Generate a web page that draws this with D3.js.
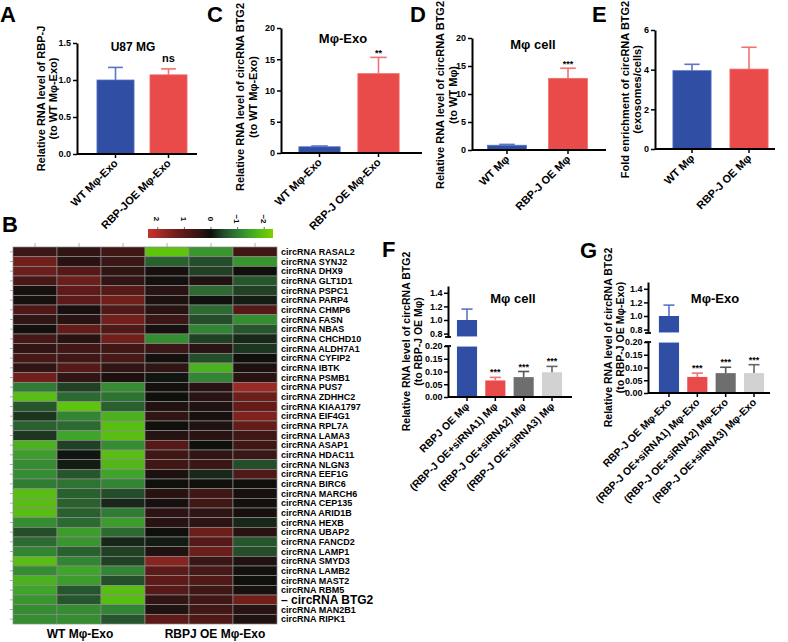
<!DOCTYPE html>
<html><head><meta charset="utf-8">
<script src="https://cdn.jsdelivr.net/npm/d3@7"></script>
<style>
body{margin:0;background:#fff}
svg{display:block}
text{font-family:"Liberation Sans",Arial,Helvetica,sans-serif;font-weight:bold;fill:#000}
</style>
</head><body>
<svg id="c" width="788" height="642"></svg>
<script>
// ---------- DATA ----------
const aCats = ["WT Mφ-Exo", "RBP-JOE Mφ-Exo"];
const aMeans = [1.0, 1.07];
const aErrs = [0.17, 0.08];

const cCats = ["WT Mφ-Exo", "RBP-J OE Mφ-Exo"];
const cMeans = [1.0, 12.7];
const cErrs = [0.12, 2.6];

const dCats = ["WT Mφ", "RBP-J OE Mφ"];
const dMeans = [0.85, 12.8];
const dErrs = [0.15, 1.8];

const eCats = ["WT Mφ", "RBP-J OE Mφ"];
const eMeans = [3.95, 4.03];
const eErrs = [0.32, 1.1];

const fCats = ["RBPJ OE Mφ", "(RBP-J OE+siRNA1) Mφ", "(RBP-J OE+siRNA2) Mφ", "(RBP-J OE+siRNA3) Mφ"];
const fMeans = [1.0, 0.065, 0.078, 0.097];
const fErrs = [0.16, 0.012, 0.022, 0.023];

const gCats = ["RBP-J OE Mφ-Exo", "(RBP-J OE+siRNA1) Mφ-Exo", "(RBP-J OE+siRNA2) Mφ-Exo", "(RBP-J OE+siRNA3) Mφ-Exo"];
const gMeans = [1.0, 0.063, 0.078, 0.078];
const gErrs = [0.16, 0.015, 0.023, 0.033];

const yTicks2 = [0, 0.5, 1.0, 1.5];
const yTicks20 = [0, 5, 10, 15, 20];
const yTicks6 = [0, 2, 4, 6];
const lowTicks = [0, 0.05, 0.10, 0.15, 0.20];
const highTicks = [0.8, 1.0, 1.2, 1.4];

const genes = ["RASAL2","SYNJ2","DHX9","GLT1D1","PSPC1","PARP4","CHMP6","FASN","NBAS","CHCHD10",
  "ALDH7A1","CYFIP2","IBTK","PSMB1","PUS7","ZDHHC2","KIAA1797","EIF4G1","RPL7A","LAMA3",
  "ASAP1","HDAC11","NLGN3","EEF1G","BIRC6","MARCH6","CEP135","ARID1B","HEXB","UBAP2",
  "FANCD2","LAMP1","SMYD3","LAMB2","MAST2","RBM5","BTG2","MAN2B1","RIPK1"];
const samples = ["WT1","WT2","WT3","OE1","OE2","OE3"];
const wt1 = [0.5,1.3,1.2,0.7,0.1,0.1,0.8,0.4,0.05,0.7,0.4,0.7,0.4,1.3,-1.0,-1.9,-0.6,-0.3,-0.7,-0.3,-1.7,-1.4,-1.2,-1.2,-1.0,-1.9,-1.9,-1.9,-1.2,-0.5,-0.8,-1.1,-1.9,-1.2,-1.7,-1.5,-1.3,-1.2,-1.2];
const wt2 = [0.4,0.3,0.9,1.2,1.0,1.0,0.1,0.3,1.1,0.3,0.6,0.6,0.9,0.4,-0.4,-0.8,-2.0,-1.1,-0.8,-1.5,-0.4,-0.05,-0.1,-0.6,-0.9,-0.7,-0.7,-0.7,-0.8,-1.4,-1.3,-0.7,-1.1,-1.5,-1.4,-0.6,-0.6,-1.2,-1.2];
const wt3 = [0.6,0.5,0.4,0.4,0.9,1.3,0.8,1.3,0.8,1.3,0.6,0.7,0.4,0.15,-1.2,-0.9,-0.7,-1.7,-1.9,-1.9,-1.2,-1.9,-1.8,-1.5,-1.1,-0.5,-0.2,-1.0,-1.4,-0.8,-0.2,-0.4,-0.4,-1.1,-0.5,-1.9,-1.9,-1.1,-0.6];
const oe1 = [-2.0,-0.7,0.1,0.05,0.3,0.15,0.3,0.5,0.1,-1.2,0.5,0.05,0.4,-0.05,0.05,0.0,0.2,0.4,0.0,0.25,0.9,0.6,0.6,0.15,0.0,0.3,0.1,0.35,0.3,0.0,-0.1,0.2,1.6,1.0,1.0,0.9,0.4,0.2,1.0];
const oe2 = [-1.3,-0.5,-0.4,0.2,-0.8,0.0,-0.8,-0.5,-1.1,-0.4,0.3,-0.5,-1.7,-1.1,0.3,0.3,0.2,0.1,0.2,0.3,0.0,0.4,0.5,-0.2,0.0,0.6,0.6,0.4,0.35,1.2,0.9,1.2,0.5,0.7,0.8,0.6,0.6,0.6,0.8];
const oe3 = [0.6,-1.3,0.0,-0.6,-0.4,-0.1,0.9,-1.2,-0.6,-0.2,-0.3,0.0,0.15,0.3,1.8,1.2,1.1,1.5,1.1,0.6,0.6,0.5,-0.5,0.8,0.0,0.1,0.05,0.1,-0.2,0.3,-0.6,-0.5,0.2,0.05,0.0,0.1,1.3,0.3,0.2];
const legendTicks = [2, 1, 0, -1, -2];

// ---------- STYLE ----------
const BLUE = "#2f4ea4", BLUE_E = "#5b74c8";
const RED = "#e94a4a", RED_E = "#f07272";
const DGRAY = "#6e6e6e", DGRAY_E = "#555";
const LGRAY = "#d2d2d2", LGRAY_E = "#666";

const svg = d3.select("#c");

function styleAxis(sel){
  sel.select(".domain").attr("stroke","#000").attr("stroke-width",2);
  sel.selectAll(".tick line").attr("stroke","#000").attr("stroke-width",1.5);
  sel.selectAll(".tick text").attr("font-size","9px").attr("font-weight","bold")
     .attr("font-family",'"Liberation Sans",Arial,sans-serif').attr("fill","#000");
}

function yLabel(lines, xs, cy, size){
  lines.forEach((t,i)=>{
    svg.append("text").attr("transform",`translate(${xs[i]},${cy}) rotate(-90)`)
      .attr("text-anchor","middle").attr("font-size",size+"px").text(t);
  });
}

function xLabels(x, cats, yb, size){
  cats.forEach(c=>{
    const cx = x(c) + x.bandwidth()/2;
    svg.append("text").attr("transform",`translate(${cx+3},${yb+10}) rotate(-45)`)
      .attr("text-anchor","end").attr("font-size",size+"px").text(c);
  });
}

function errBar(g, cx, yTop, yErr, w, col){
  g.append("line").attr("x1",cx).attr("x2",cx).attr("y1",yTop).attr("y2",yErr)
    .attr("stroke",col).attr("stroke-width",1.6);
  g.append("line").attr("x1",cx-w/2).attr("x2",cx+w/2).attr("y1",yErr).attr("y2",yErr)
    .attr("stroke",col).attr("stroke-width",1.6);
}

function barPanel(o){
  const g = svg.append("g");
  const x = d3.scaleBand().domain(o.cats).range(o.band).paddingInner(o.pad).paddingOuter(o.pad/2);
  const y = d3.scaleLinear().domain(o.domain).range([o.yBot, o.yTop]);
  o.cats.forEach((c,i)=>{
    const bx = x(c), bw = x.bandwidth();
    g.append("rect").attr("x",bx).attr("width",bw).attr("y",y(o.means[i]))
      .attr("height",o.yBot - y(o.means[i])).attr("fill",o.colors[i])
      .attr("stroke",o.ecolors[i]).attr("stroke-width",0.8);
    errBar(g, bx+bw/2, y(o.means[i]), y(o.means[i]+o.errs[i]), bw*0.4, o.ecolors[i]);
  });
  g.append("line").attr("x1",o.x0).attr("x2",o.x1).attr("y1",o.yBot).attr("y2",o.yBot)
    .attr("stroke","#000").attr("stroke-width",2);
  const xa = g.append("g").attr("transform",`translate(0,${o.yBot})`)
    .call(d3.axisBottom(x).tickSize(4).tickSizeOuter(0).tickFormat(""));
  xa.select(".domain").remove();
  xa.selectAll(".tick line").attr("stroke","#000").attr("stroke-width",1.5);
  const ya = g.append("g").attr("transform",`translate(${o.x0},0)`)
    .call(d3.axisLeft(y).tickValues(o.ticks).tickFormat(d3.format(o.fmt)).tickSize(4).tickSizeOuter(0).tickPadding(2));
  styleAxis(ya);
  xLabels(x, o.cats, o.yBot, o.xsize || 11);
  if (o.title) svg.append("text").attr("x",o.title[1]).attr("y",o.title[2]).attr("text-anchor","middle")
     .attr("font-size",(o.title[3]||13)+"px").text(o.title[0]);
  if (o.marks) o.marks.forEach((m,i)=>{
    if(!m) return;
    const cx = x(o.cats[i]) + x.bandwidth()/2;
    svg.append("text").attr("x",cx).attr("y",y(o.means[i]+o.errs[i]) - (m==="ns"?7:1))
      .attr("text-anchor","middle").attr("font-size",(m==="ns"?11:9)+"px")
      .attr("font-weight",m==="ns"?"bold":"normal").text(m);
  });
  yLabel(o.ylab, o.ylabX, o.ylabCy || (o.yBot+o.yTop)/2, 11);
}

function brokenPanel(o){
  const g = svg.append("g");
  const x = d3.scaleBand().domain(o.cats).range(o.band).paddingInner(o.pad).paddingOuter(o.pad/2);
  const yl = d3.scaleLinear().domain([0,0.2]).range([o.yBot, o.yBot-51]);
  const yu = d3.scaleLinear().domain([0.75,1.5]).range([o.yBot-60, o.yBot-111]);
  o.cats.forEach((c,i)=>{
    const bx = x(c), bw = x.bandwidth(), v = o.means[i], e = o.errs[i];
    const top = v > 0.2 ? yl(0.2) : yl(v);
    g.append("rect").attr("x",bx).attr("width",bw).attr("y",top).attr("height",o.yBot-top)
      .attr("fill",o.colors[i]);
    if (v > 0.75){
      g.append("rect").attr("x",bx).attr("width",bw).attr("y",yu(v)).attr("height",yu(0.75)-yu(v))
        .attr("fill",o.colors[i]);
      errBar(g, bx+bw/2, yu(v), yu(v+e), bw*0.55, o.ecolors[i]);
      g.append("line").attr("x1",bx).attr("x2",bx+bw).attr("y1",yl(0.2)+0.5).attr("y2",yl(0.2)+0.5)
        .attr("stroke","#9fb0e0").attr("stroke-width",1);
      g.append("line").attr("x1",bx).attr("x2",bx+bw).attr("y1",yu(0.75)-0.5).attr("y2",yu(0.75)-0.5)
        .attr("stroke","#9fb0e0").attr("stroke-width",1);
    } else {
      errBar(g, bx+bw/2, yl(v), yl(v+e), bw*0.55, o.ecolors[i]);
      svg.append("text").attr("x",bx+bw/2).attr("y",yl(v+e)-2).attr("text-anchor","middle")
        .attr("font-size","9px").attr("font-weight","normal").text("***");
    }
  });
  g.append("line").attr("x1",o.x0).attr("x2",o.x1).attr("y1",o.yBot).attr("y2",o.yBot)
    .attr("stroke","#000").attr("stroke-width",2);
  const xa = g.append("g").attr("transform",`translate(0,${o.yBot})`)
    .call(d3.axisBottom(x).tickSize(4).tickSizeOuter(0).tickFormat(""));
  xa.select(".domain").remove();
  xa.selectAll(".tick line").attr("stroke","#000").attr("stroke-width",1.5);
  const ya1 = g.append("g").attr("transform",`translate(${o.x0},0)`)
    .call(d3.axisLeft(yl).tickValues(lowTicks).tickFormat(d3.format(".2f")).tickSize(4).tickSizeOuter(0).tickPadding(1.5));
  styleAxis(ya1);
  const ya2 = g.append("g").attr("transform",`translate(${o.x0},0)`)
    .call(d3.axisLeft(yu).tickValues(highTicks).tickFormat(d3.format(".1f")).tickSize(4).tickSizeOuter(0).tickPadding(1.5));
  styleAxis(ya2);
  [yl(0.2), yu(0.75)].forEach(yy=>{
    g.append("line").attr("x1",o.x0-3).attr("x2",o.x0+3).attr("y1",yy).attr("y2",yy)
      .attr("stroke","#000").attr("stroke-width",1.8);
  });
  xLabels(x, o.cats, o.yBot, 10.5);
  svg.append("text").attr("x",o.title[1]).attr("y",o.title[2]).attr("text-anchor","middle")
     .attr("font-size","13px").text(o.title[0]);
  yLabel(o.ylab, o.ylabX, (o.yBot + o.yBot-111)/2, 10.5);
}

// ---------- PANELS ----------
barPanel({cats:aCats, means:aMeans, errs:aErrs, colors:[BLUE,RED], ecolors:[BLUE_E,RED_E],
  x0:77, x1:197, yBot:154, yTop:43, domain:[0,1.5], ticks:yTicks2, fmt:".1f",
  band:[89,195], pad:0.30, title:["U87 MG",133,51,12], marks:[null,"ns"],
  ylab:["Relative RNA level of RBP-J","(to WT Mφ-Exo)"], ylabX:[45,57]});

barPanel({cats:cCats, means:cMeans, errs:cErrs, colors:[BLUE,RED], ecolors:[BLUE_E,RED_E],
  x0:281, x1:422, yBot:153, yTop:28, domain:[0,20], ticks:yTicks20, fmt:"d",
  band:[290,408], pad:0.30, title:["Mφ-Exo",343,43,13], marks:[null,"**"],
  ylab:["Relative RNA level of circRNA BTG2","(to WT Mφ-Exo)"], ylabX:[244,257], ylabCy:97});

barPanel({cats:dCats, means:dMeans, errs:dErrs, colors:[BLUE,RED], ecolors:[BLUE_E,RED_E],
  x0:472, x1:606, yBot:150, yTop:38, domain:[0,20], ticks:yTicks20, fmt:"d",
  band:[476.5,598.5], pad:0.36, title:["Mφ cell",533,49,13], marks:[null,"***"],
  ylab:["Relative RNA level of circRNA BTG2","(to WT Mφ)"], ylabX:[444,457], ylabCy:95});

barPanel({cats:eCats, means:eMeans, errs:eErrs, colors:[BLUE,RED], ecolors:[BLUE_E,RED_E],
  x0:655, x1:775, yBot:149, yTop:30, domain:[0,6], ticks:yTicks6, fmt:"d",
  band:[663.5,777.5], pad:0.33, title:null, marks:null,
  ylab:["Fold enrichment of circRNA BTG2","(exosomes/cells)"], ylabX:[629,641]});

brokenPanel({cats:fCats, means:fMeans, errs:fErrs, colors:[BLUE,RED,DGRAY,LGRAY], ecolors:[BLUE_E,RED_E,DGRAY_E,LGRAY_E],
  x0:448, x1:572, yBot:397, band:[452.85,566.15], pad:0.29, title:["Mφ cell",513,303],
  ylab:["Relative RNA level of circRNA BTG2","(to RBP-J OE Mφ)"], ylabX:[410,422]});

brokenPanel({cats:gCats, means:gMeans, errs:gErrs, colors:[BLUE,RED,DGRAY,LGRAY], ecolors:[BLUE_E,RED_E,DGRAY_E,LGRAY_E],
  x0:648, x1:770, yBot:393, band:[654.8,768.2], pad:0.29, title:["Mφ-Exo",715,303],
  ylab:["Relative RNA level of circRNA BTG2","(to RBP-J OE Mφ-Exo)"], ylabX:[612,624]});

// ---------- HEATMAP ----------
const color = d3.scaleLinear()
  .domain([-2.35,-2,-1.5,-1,-0.5,0,0.5,1,1.5,2,2.35])
  .range(["#80d000","#5ec40e","#3fa52a","#2f7d35","#244e2a","#0f0f0c","#3a1616","#5e1a18","#80231f","#ad2d27","#c8322b"])
  .clamp(true);
const cols = [wt1,wt2,wt3,oe1,oe2,oe3];
const hx = d3.scaleBand().domain(samples).range([13,277]);
const hy = d3.scaleBand().domain(genes).range([247,624]);
const hm = svg.append("g");
samples.forEach((s,j)=>{
  genes.forEach((gname,i)=>{
    hm.append("rect").attr("x",hx(s)).attr("y",hy(gname)).attr("width",hx.bandwidth()).attr("height",hy.bandwidth())
      .attr("fill",color(cols[j][i])).attr("stroke","#8a8a8a").attr("stroke-width",0.7);
  });
  hm.append("line").attr("x1",hx(s)+hx.bandwidth()/2).attr("x2",hx(s)+hx.bandwidth()/2)
    .attr("y1",243).attr("y2",247).attr("stroke","#999").attr("stroke-width",0.8);
});
genes.forEach(gname=>{
  const cy = hy(gname)+hy.bandwidth()/2;
  hm.append("line").attr("x1",10).attr("x2",13).attr("y1",cy).attr("y2",cy).attr("stroke","#999").attr("stroke-width",0.8);
  if (gname==="BTG2"){
    svg.append("text").attr("x",281).attr("y",cy+4.5).attr("font-size","12px").text("– circRNA " + gname);
  } else {
    svg.append("text").attr("x",281).attr("y",cy+3.3).attr("font-size","9px").text("circRNA " + gname);
  }
});
svg.append("text").attr("x",80).attr("y",638).attr("text-anchor","middle").attr("font-size","12px").text("WT Mφ-Exo");
svg.append("text").attr("x",215).attr("y",638).attr("text-anchor","middle").attr("font-size","12px").text("RBPJ OE Mφ-Exo");

// legend
const lx = d3.scaleLinear().domain([2.35,-2.35]).range([148,273]);
const defs = svg.append("defs");
const grad = defs.append("linearGradient").attr("id","lg").attr("x1","0%").attr("x2","100%");
d3.range(0,1.0001,0.05).forEach(t=>{
  grad.append("stop").attr("offset",(t*100)+"%").attr("stop-color",color(2.35 - t*4.7));
});
svg.append("rect").attr("x",148).attr("y",229).attr("width",125).attr("height",9).attr("fill","url(#lg)");
const lgAx = svg.append("g").attr("transform","translate(0,229)")
  .call(d3.axisTop(lx).tickValues(legendTicks).tickSize(2).tickFormat(""));
lgAx.select(".domain").remove();
lgAx.selectAll(".tick line").attr("stroke","#666");
legendTicks.forEach(v=>{
  svg.append("text").attr("transform",`translate(${lx(v)-3},219) rotate(90)`).attr("text-anchor","middle")
    .attr("font-size","8px").attr("font-weight","normal").attr("fill","#333").text(d3.format("d")(v));
});

// panel letters
[["A",0,22],["C",207,22],["D",410,22],["E",592,22],["B",2,232],["F",382,257],["G",580,258]].forEach(l=>{
  svg.append("text").attr("x",l[1]).attr("y",l[2]).attr("font-size","22px").text(l[0]);
});
</script>
</body></html>
